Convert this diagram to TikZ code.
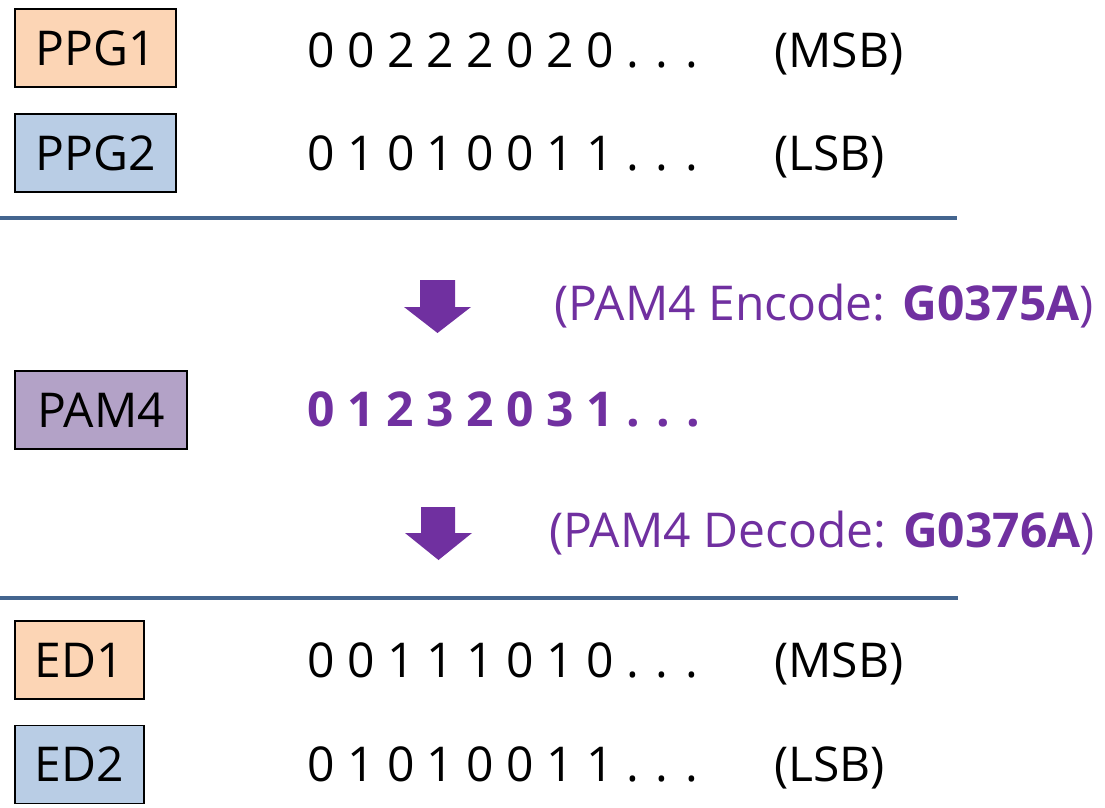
\documentclass[tikz,border=0pt]{standalone}
\usepackage{fontspec}
\setmainfont{Open Sans}
\definecolor{orfill}{HTML}{FCD5B5}
\definecolor{blfill}{HTML}{B9CDE5}
\definecolor{pufill}{HTML}{B3A2C7}
\definecolor{putext}{HTML}{7030A0}
\definecolor{rule}{HTML}{44658F}
\tikzset{
  lbox/.style={draw=black, line width=1.5pt, inner sep=0pt, minimum height=78pt, font=\fontsize{48}{56}\selectfont},
  bits/.style={anchor=base west, inner sep=0pt, font=\fontsize{48}{56}\selectfont},
  note/.style={anchor=base west, inner sep=0pt, text=putext, font=\fontsize{48}{56}\selectfont},
  rulel/.style={draw=rule, line width=4pt},
  barrow/.style={fill=putext, draw=none}
}
\begin{document}
\begin{tikzpicture}[x=1pt, y=-1pt]
\useasboundingbox (0,0) rectangle (1105,808);
% boxes
\node[lbox, fill=orfill, minimum width=161pt] (ppg1) at (95.5,48) {PPG1};
\node[lbox, fill=blfill, minimum width=161pt] (ppg2) at (95.5,153) {PPG2};
\node[lbox, fill=pufill, minimum width=172pt] (pam) at (101,410) {PAM4};
\node[lbox, fill=orfill, minimum width=129pt] (ed1) at (79.5,660) {ED1};
\node[lbox, fill=blfill, minimum width=129pt] (ed2) at (79.5,764.5) {ED2};
% bit rows
\node[bits] (r1) at (307,67) {0 0 2 2 2 0 2 0 . . .};
\node[bits] (m1) at (774,67) {(MSB)};
\node[bits] (r2) at (307,170) {0 1 0 1 0 0 1 1 . . .};
\node[bits] (l1) at (774,170) {(LSB)};
\node[bits, text=putext, font=\fontsize{48}{56}\selectfont\bfseries] (r3) at (307,426) {0 1 2 3 2 0 3 1 . . .};
\node[bits] (r4) at (307,677) {0 0 1 1 1 0 1 0 . . .};
\node[bits] (m2) at (774,677) {(MSB)};
\node[bits] (r5) at (307,781) {0 1 0 1 0 0 1 1 . . .};
\node[bits] (l2) at (774,781) {(LSB)};
% notes
\node[note] (enc) at (554,320) {(PAM4 Encode: \textbf{G0375A})};
\node[note] (dec) at (549,547) {(PAM4 Decode: \textbf{G0376A})};
% rules
\coordinate (t1) at (0,218); \coordinate (t2) at (957,218);
\coordinate (b1) at (0,598); \coordinate (b2) at (958,598);
\draw[rulel] (t1) -- (t2);
\draw[rulel] (b1) -- (b2);
% block arrows
\fill[barrow] (420,280) -- (455,280) -- (455,307) -- (471,307) -- (437.5,333) -- (404,307) -- (420,307) -- cycle;
\fill[barrow] (421,507) -- (455,507) -- (455,533) -- (472,533) -- (438.5,560) -- (405,533) -- (421,533) -- cycle;
\end{tikzpicture}
\end{document}
